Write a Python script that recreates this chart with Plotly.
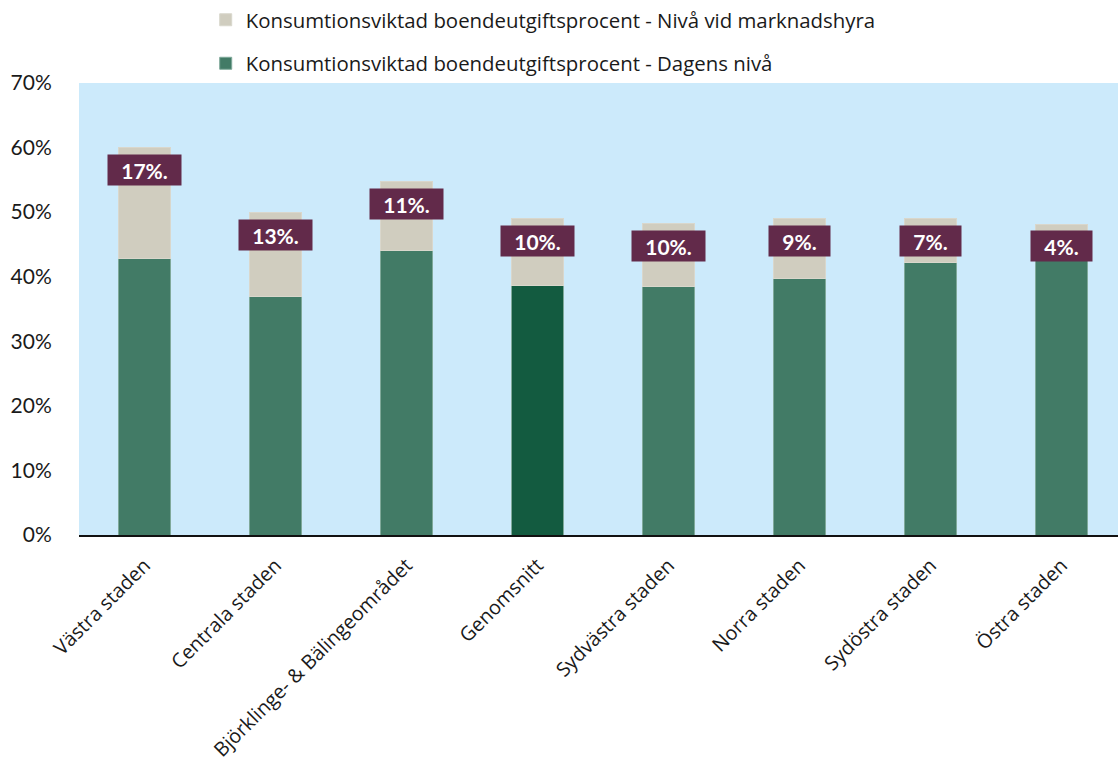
import plotly.graph_objects as go

# Stadsdelar / områden
kategorier = [
    "Västra staden",
    "Centrala staden",
    "Björklinge- & Bälingeområdet",
    "Genomsnitt",
    "Sydvästra staden",
    "Norra staden",
    "Sydöstra staden",
    "Östra staden",
]

# Boendeutgiftsprocent, dagens nivå (%)
dagens_niva = [42.8, 36.9, 44.1, 38.7, 38.5, 39.7, 42.2, 44.1]

# Tillägg upp till nivå vid marknadshyra (procentenheter)
tillagg_marknadshyra = [17.2, 13.0, 10.6, 10.3, 9.7, 9.3, 6.8, 4.0]

y_ticks = [0, 10, 20, 30, 40, 50, 60, 70]

GRON = "#427B66"
MORKGRON = "#135B40"
BEIGE = "#D0CDBF"
BAKGRUND = "#CCEAFB"
ETIKETT = "#622A4A"
FONT = "Lato, sans-serif"
SANS = "Open Sans, sans-serif"

gron_farger = [MORKGRON if k == "Genomsnitt" else GRON for k in kategorier]

fig = go.Figure()

fig.add_trace(go.Bar(
    x=kategorier,
    y=dagens_niva,
    name="Konsumtionsviktad boendeutgiftsprocent - Dagens nivå",
    marker=dict(color=gron_farger, line=dict(color="#7FA99A", width=1)),
    width=0.4,
    legendgroup="dagens",
    legendrank=2,
))

fig.add_trace(go.Bar(
    x=kategorier,
    y=tillagg_marknadshyra,
    name="Konsumtionsviktad boendeutgiftsprocent - Nivå vid marknadshyra",
    marker=dict(color=BEIGE, line=dict(color="#D9D7CC", width=1)),
    width=0.4,
    legendgroup="marknad",
    legendrank=1,
))

# Etiketter med tillägget, placerade strax under stapelns topp
for kat, bas, till in zip(kategorier, dagens_niva, tillagg_marknadshyra):
    text = f"{till:.0f}%."
    fig.add_annotation(
        x=kat,
        y=bas + till,
        yshift=-22,
        text=f"<b>{text}</b>",
        showarrow=False,
        font=dict(family=FONT, size=21, color="white"),
        bgcolor=ETIKETT,
        width=73 if len(text) > 3 else 61,
        height=30,
        borderpad=0,
        xanchor="center",
        yanchor="middle",
    )

fig.update_layout(
    width=1118,
    height=766,
    barmode="stack",
    plot_bgcolor=BAKGRUND,
    paper_bgcolor="white",
    margin=dict(l=79, r=0, t=83, b=231, autoexpand=False),
    font=dict(family=FONT, color="#1A1A1A"),
    legend=dict(
        orientation="v",
        traceorder="grouped",
        tracegroupgap=14,
        xref="container",
        yref="container",
        x=0.184,
        y=1.0,
        xanchor="left",
        yanchor="top",
        font=dict(family=SANS, size=20.4, color="#1A1A1A"),
        bgcolor="rgba(0,0,0,0)",
    ),
    showlegend=True,
)

fig.update_xaxes(
    type="category",
    range=[-0.5, 7.43],
    tickangle=-45,
    tickfont=dict(family=SANS, size=19.8, color="#1A1A1A"),
    showline=True,
    linecolor="#111111",
    linewidth=2,
    showgrid=False,
    ticks="outside",
    ticklen=9,
    tickcolor="rgba(0,0,0,0)",
    automargin=False,
)

fig.update_yaxes(
    range=[0, 70],
    tickvals=y_ticks,
    ticktext=[f"{v}%" for v in y_ticks],
    tickfont=dict(family=FONT, size=21, color="#1A1A1A"),
    showgrid=False,
    zeroline=False,
    showline=False,
    ticks="outside",
    ticklen=22,
    tickcolor="rgba(0,0,0,0)",
    automargin=False,
)

fig.write_html("out.html")
